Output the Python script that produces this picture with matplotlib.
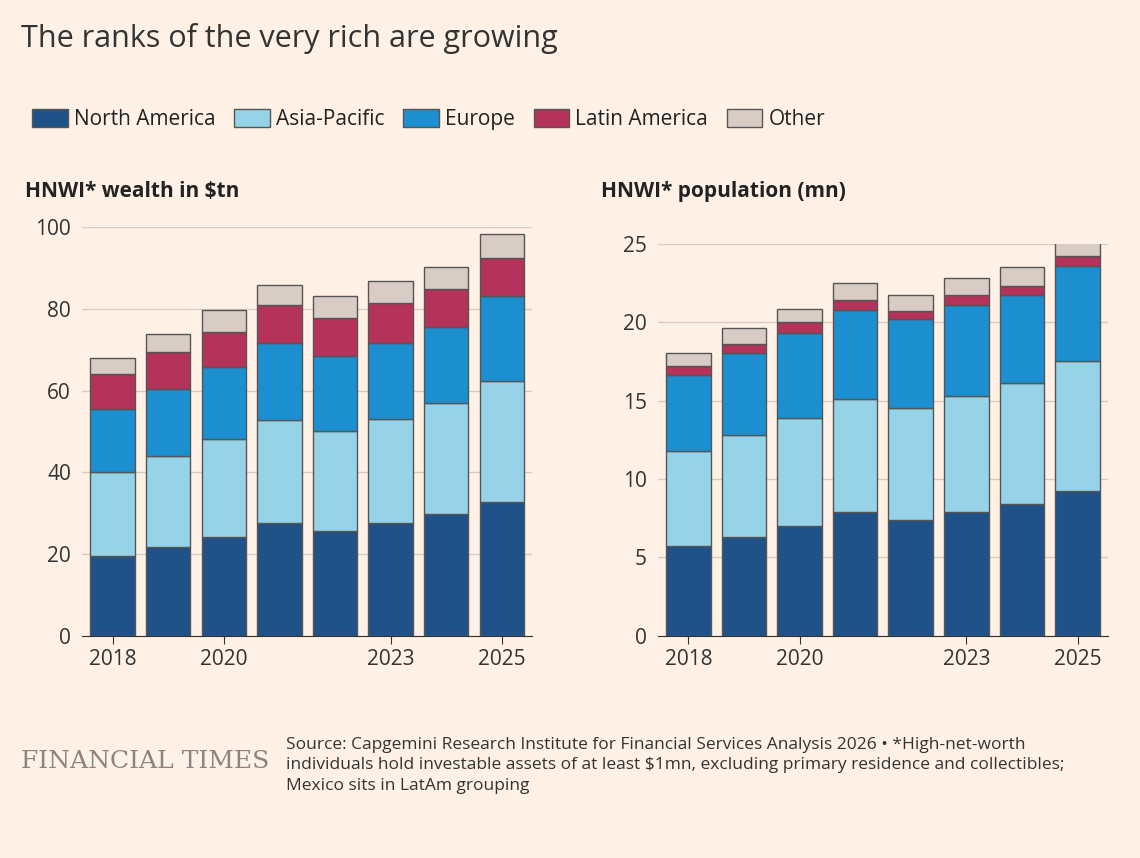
import numpy as np
import matplotlib.pyplot as plt

years = [2018, 2019, 2020, 2021, 2022, 2023, 2024, 2025]
regions = ['North America', 'Asia-Pacific', 'Europe', 'Latin America', 'Other']
colors = ['#1f5289', '#96d3e8', '#1c8fd0', '#b5325b', '#d9ccc4']

wealth_na = [19.6, 21.8, 24.3, 27.7, 25.7, 27.5, 29.9, 32.8]
wealth_ap = [20.6, 22.1, 24.0, 25.2, 24.5, 25.7, 27.0, 29.7]
wealth_eu = [15.4, 16.6, 17.6, 18.9, 18.2, 18.6, 18.8, 20.6]
wealth_la = [8.4, 8.9, 8.6, 9.1, 9.3, 9.8, 9.3, 9.5]
wealth_ot = [4.1, 4.6, 5.2, 5.1, 5.4, 5.2, 5.4, 5.7]

pop_na = [5.74, 6.3, 7.0, 7.9, 7.4, 7.9, 8.4, 9.2]
pop_ap = [6.06, 6.5, 6.9, 7.2, 7.1, 7.4, 7.7, 8.3]
pop_eu = [4.8, 5.2, 5.4, 5.7, 5.7, 5.8, 5.6, 6.1]
pop_la = [0.6, 0.6, 0.7, 0.6, 0.5, 0.6, 0.6, 0.6]
pop_ot = [0.85, 1.0, 0.85, 1.1, 1.0, 1.1, 1.2, 1.1]

bg = '#fff1e5'
fig = plt.figure(figsize=(11.4, 8.58), dpi=100, facecolor=bg)
plt.rcParams['font.family'] = 'Open Sans'

def panel(rect, series, ymax, step, title):
    ax = fig.add_axes(rect, facecolor=bg)
    x = np.arange(len(years))
    bottom = np.zeros(len(years))
    for vals, c in zip(series, colors):
        ax.bar(x, vals, bottom=bottom, width=0.8, color=c, edgecolor='#555555', linewidth=1, zorder=3)
        bottom += np.array(vals)
    ax.set_ylim(0, ymax)
    ax.set_xlim(-0.55, len(years) - 0.45)
    ax.set_yticks(np.arange(0, ymax + 0.1, step))
    ax.grid(axis='y', color='#d8cbbf', linewidth=1, zorder=0)
    for s in ['top', 'right', 'left']:
        ax.spines[s].set_visible(False)
    ax.spines['bottom'].set_color('#333333')
    ax.tick_params(axis='y', length=0, labelsize=15, colors='#333333', pad=8)
    lab = [0, 2, 5, 7]
    ax.set_xticks(lab)
    ax.set_xticklabels([str(years[i]) for i in lab])
    ax.tick_params(axis='x', length=6, color='#333333', labelsize=15, colors='#333333')
    fig.text(rect[0] - 0.05, 0.77, title, fontsize=15, fontweight='bold', color='#222222')
    return ax

panel([0.072, 0.259, 0.395, 0.476],
      [wealth_na, wealth_ap, wealth_eu, wealth_la, wealth_ot], 100, 20, 'HNWI* wealth in $tn')
panel([0.577, 0.259, 0.395, 0.457],
      [pop_na, pop_ap, pop_eu, pop_la, pop_ot], 25, 5, 'HNWI* population (mn)')

fig.text(0.018, 0.955, 'The ranks of the very rich are growing', fontsize=22, color='#333333', va='center')

handles = [plt.Rectangle((0, 0), 1, 1, facecolor=c, edgecolor='#555555') for c in colors]
fig.legend(handles, regions, loc='center left', bbox_to_anchor=(0.012, 0.861), ncol=5, frameon=False,
           fontsize=15, handlelength=1.7, handleheight=1.0, handletextpad=0.3, columnspacing=0.9,
           labelcolor='#222222')

fig.text(0.018, 0.112, 'FINANCIAL TIMES', fontsize=18, family='DejaVu Serif', color='#8c8480', va='center')
fig.text(0.251, 0.108, 'Source: Capgemini Research Institute for Financial Services Analysis 2026 • *High-net-worth\n'
         'individuals hold investable assets of at least $1mn, excluding primary residence and collectibles;\n'
         'Mexico sits in LatAm grouping', fontsize=12.5, color='#333333', va='center', linespacing=1.35)

fig.savefig('out.png', dpi=100, facecolor=bg)
